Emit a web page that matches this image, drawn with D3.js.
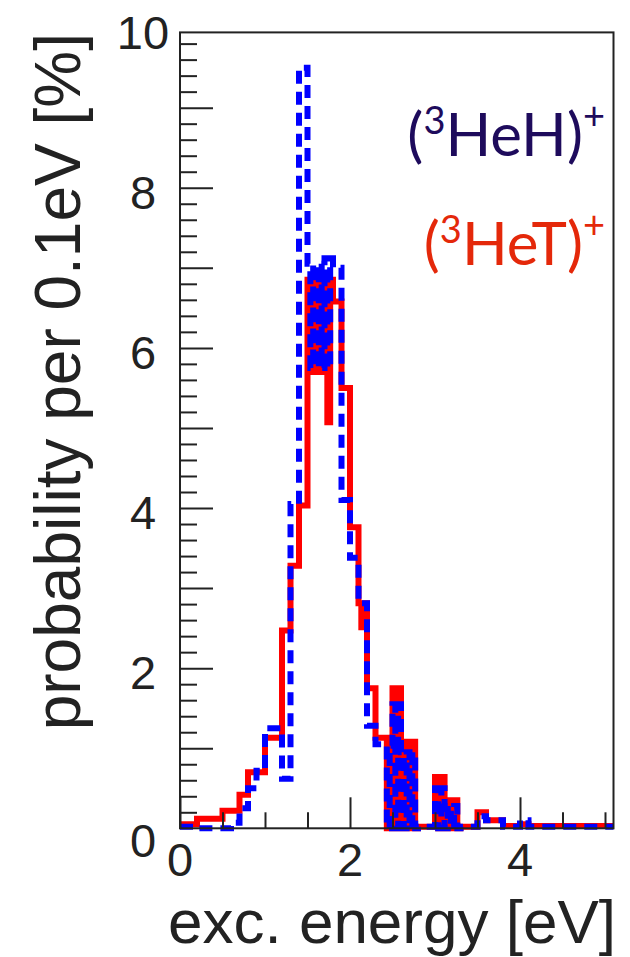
<!DOCTYPE html>
<html>
<head>
<meta charset="utf-8">
<script src="https://cdn.jsdelivr.net/npm/d3@7/dist/d3.min.js"></script>
<style>
  html, body { margin: 0; padding: 0; background: #fff; }
  svg { display: block; }
</style>
</head>
<body>
<svg id="chart" width="630" height="957"></svg>
<script>
// Excitation-energy spectra, probability per 0.1 eV in %.
// Each row: [from eV, to eV, low %, high %]; low == high is a flat step,
// low < high marks a stretch where the fine-binned spectrum jumps between the two levels.
const heH = [
  [0.0, 0.2, 0.02, 0.02],
  [0.2, 0.6, 0.0, 0.0],
  [0.6, 0.7, 0.07, 0.07],
  [0.7, 0.8, 0.25, 0.25],
  [0.8, 0.9, 0.5, 0.5],
  [0.9, 1.0, 0.72, 0.72],
  [1.0, 1.2, 1.25, 1.25],
  [1.2, 1.3, 0.62, 0.62],
  [1.3, 1.4, 4.05, 4.05],
  [1.4, 1.5, 9.5, 9.5],
  [1.5, 1.7, 5.75, 7.05],
  [1.7, 1.8, 5.75, 7.12],
  [1.8, 1.9, 7.0, 7.0],
  [1.9, 2.0, 4.1, 4.1],
  [2.0, 2.1, 3.38, 3.38],
  [2.1, 2.2, 2.81, 2.81],
  [2.2, 2.3, 1.28, 1.28],
  [2.3, 2.4, 1.05, 1.05],
  [2.4, 2.5, 0.0, 1.03],
  [2.5, 2.6, 0.0, 1.55],
  [2.6, 2.8, 0.0, 0.95],
  [2.8, 3.0, 0.02, 0.02],
  [3.0, 3.15, 0.0, 0.5],
  [3.15, 3.3, 0.0, 0.28],
  [3.3, 3.5, 0.02, 0.02],
  [3.5, 3.6, 0.15, 0.15],
  [3.6, 3.8, 0.1, 0.1],
  [3.8, 4.0, 0.02, 0.02],
  [4.0, 4.1, 0.1, 0.1],
  [4.1, 5.1, 0.02, 0.02]
];

const heT = [
  [0.0, 0.2, 0.05, 0.05],
  [0.2, 0.5, 0.12, 0.12],
  [0.5, 0.7, 0.22, 0.22],
  [0.7, 0.8, 0.42, 0.42],
  [0.8, 1.0, 0.7, 0.7],
  [1.0, 1.2, 1.13, 1.13],
  [1.2, 1.3, 2.47, 2.47],
  [1.3, 1.4, 3.28, 3.28],
  [1.4, 1.5, 4.03, 4.03],
  [1.5, 1.7, 5.7, 6.85],
  [1.7, 1.8, 5.07, 6.85],
  [1.8, 1.9, 6.58, 6.58],
  [1.9, 2.0, 5.5, 5.5],
  [2.0, 2.1, 3.76, 3.76],
  [2.1, 2.2, 2.51, 2.81],
  [2.2, 2.3, 1.75, 1.75],
  [2.3, 2.4, 1.13, 1.13],
  [2.4, 2.5, 0.0, 1.13],
  [2.5, 2.6, 0.0, 1.75],
  [2.6, 2.8, 0.0, 1.08],
  [2.8, 3.0, 0.02, 0.02],
  [3.0, 3.15, 0.0, 0.64],
  [3.15, 3.3, 0.0, 0.35],
  [3.3, 3.5, 0.02, 0.02],
  [3.5, 3.6, 0.2, 0.2],
  [3.6, 3.8, 0.1, 0.1],
  [3.8, 4.0, 0.03, 0.03],
  [4.0, 4.1, 0.05, 0.05],
  [4.1, 5.1, 0.03, 0.03]
];

const xLabels = [0, 2, 4];
const xMinorTicks = [0.5, 1, 1.5, 2.5, 3, 3.5, 4.5, 5];
const yLabels = [0, 2, 4, 6, 8, 10];
const yMajorTicks = [1, 2, 3, 4, 5, 6, 7, 8, 9];
const yMinorTicks = d3.range(1, 50).map(i => +(i * 0.2).toFixed(1)).filter(v => v % 1 !== 0);

const svg = d3.select("#chart");

const x = d3.scaleLinear().domain([0, 5.1]).range([180, 613.5]);
const y = d3.scaleLinear().domain([0, 9.94]).range([828.3, 32.4]);

// fine sub-step used to draw the jumpy stretches
const SUB = 0.1 / 3;

function toCells(rows) {
  const cells = [];
  for (const [a, b, lo, hi] of rows) {
    if (lo === hi) { cells.push([a, lo]); continue; }
    const n = Math.round((b - a) / SUB);
    for (let i = 0; i < n; i++) cells.push([a + (b - a) * i / n, i % 2 === 0 ? hi : lo]);
  }
  const last = rows[rows.length - 1];
  cells.push([last[1], cells[cells.length - 1][1]]);
  return cells;
}

const step = d3.line()
  .x(d => x(d[0]))
  .y(d => y(d[1]))
  .curve(d3.curveStepAfter);

const plot = svg.append("g");

plot.append("path")
  .attr("d", step(toCells(heT)))
  .attr("fill", "none")
  .attr("stroke", "#ff0000")
  .attr("stroke-width", 6)
  .attr("stroke-linejoin", "miter");

plot.append("path")
  .attr("d", step(toCells(heH)))
  .attr("fill", "none")
  .attr("stroke", "#0000ff")
  .attr("stroke-width", 6)
  .attr("stroke-dasharray", "13 8")
  .attr("stroke-linejoin", "miter");

// frame
svg.append("rect")
  .attr("x", x(0)).attr("y", y(9.94))
  .attr("width", x(5.1) - x(0)).attr("height", y(0) - y(9.94))
  .attr("fill", "none").attr("stroke", "#222").attr("stroke-width", 2);

// ticks, pointing into the frame
function tickAxis(axis, transform) {
  const g = svg.append("g").attr("transform", transform).call(axis);
  g.select(".domain").remove();
  g.selectAll(".tick line").attr("stroke", "#222").attr("stroke-width", 2);
  return g;
}
tickAxis(d3.axisLeft(y).tickValues(yMinorTicks).tickSize(-17).tickFormat(""), `translate(${x(0)},0)`);
tickAxis(d3.axisLeft(y).tickValues(yMajorTicks).tickSize(-33).tickFormat(""), `translate(${x(0)},0)`);
tickAxis(d3.axisBottom(x).tickValues(xMinorTicks).tickSize(-16).tickFormat(""), `translate(0,${y(0)})`);
tickAxis(d3.axisBottom(x).tickValues(xLabels).tickSize(-31).tickFormat(""), `translate(0,${y(0)})`);

// tick labels
const labelFont = "'Liberation Sans', Arial, Helvetica, sans-serif";
svg.append("g").selectAll("text").data(yLabels).join("text")
  .attr("x", 143)
  .attr("y", d => y(d) + (d === 0 ? 29 : 21))
  .attr("text-anchor", "middle")
  .attr("font-family", labelFont).attr("font-size", 47).attr("fill", "#222")
  .text(d => d);

svg.append("g").selectAll("text").data(xLabels).join("text")
  .attr("x", d => x(d))
  .attr("y", 876)
  .attr("text-anchor", "middle")
  .attr("font-family", labelFont).attr("font-size", 47).attr("fill", "#222")
  .text(d => d);

// axis titles
svg.append("text")
  .attr("x", 616).attr("y", 943)
  .attr("text-anchor", "end")
  .attr("font-family", labelFont).attr("font-size", 62).attr("fill", "#222")
  .text("exc. energy [eV]");

svg.append("text")
  .attr("transform", "translate(80,33) rotate(-90)")
  .attr("text-anchor", "end")
  .attr("font-family", labelFont).attr("font-size", 64).attr("fill", "#222")
  .text("probability per 0.1eV [%]");

// legend
const legendFont = "Lato, 'Open Sans', sans-serif";
function legendLabel(yBase, isotope, color) {
  const t = svg.append("text")
    .attr("x", 605).attr("y", yBase)
    .attr("text-anchor", "end")
    .attr("font-family", legendFont).attr("font-size", 60).attr("fill", color);
  t.append("tspan").text("(");
  t.append("tspan").attr("font-size", 38).attr("dy", -22).text("3");
  t.append("tspan").attr("dy", 22).text("He" + isotope + ")");
  t.append("tspan").attr("font-size", 38).attr("dy", -27).text("+");
}
legendLabel(156, "H", "#1e0b5c");
legendLabel(265, "T", "#e4280a");
</script>
</body>
</html>
